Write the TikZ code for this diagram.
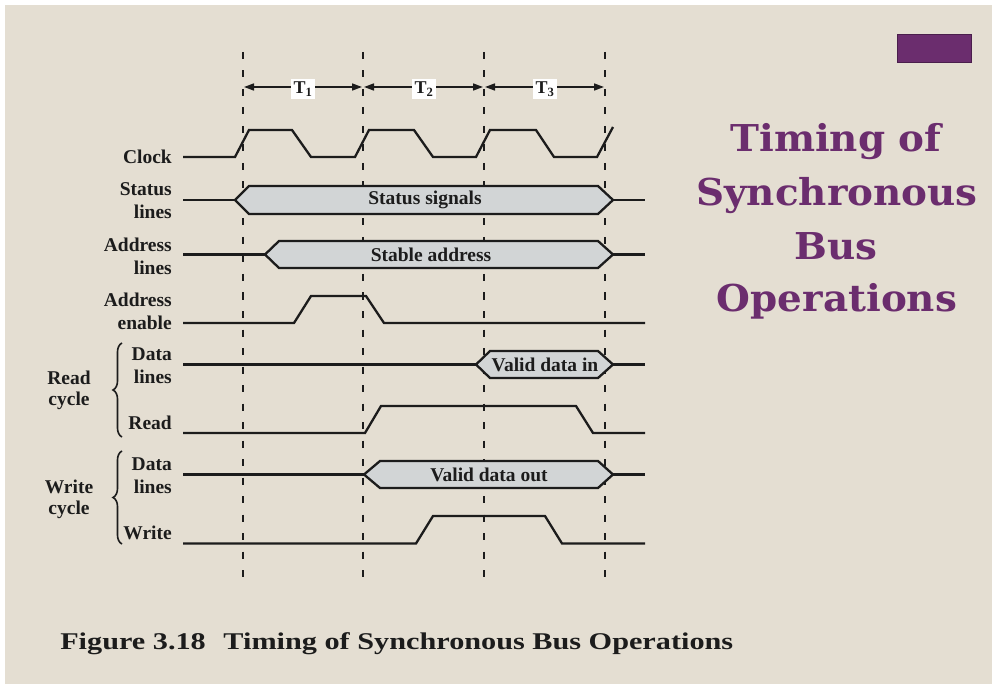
\documentclass[tikz,border=0pt]{standalone}
\usepackage{fontspec}
\setmainfont{Liberation Serif}
\newfontfamily\titlefont{DejaVu Serif}
\usetikzlibrary{arrows.meta,decorations.pathreplacing}
\definecolor{bg}{HTML}{E4DED2}
\definecolor{hexfill}{HTML}{D2D5D6}
\definecolor{ink}{HTML}{1C1C1C}
\definecolor{plum}{HTML}{6B2D6E}
\definecolor{plumdark}{HTML}{4A1E4C}
\begin{document}
\begin{tikzpicture}[x=1pt,y=-1pt,
  sig/.style={draw=ink, line width=2.3pt, line join=miter},
  hexbox/.style={draw=ink, fill=hexfill, line width=2.3pt, line join=miter},
  guide/.style={draw=ink, line width=1.8pt, dash pattern=on 7pt off 11.5pt},
  lbl/.style={font=\fontsize{19.5}{23}\selectfont\bfseries, text=ink, inner sep=0pt, align=right, anchor=east},
  grp/.style={font=\fontsize{19.5}{21}\selectfont\bfseries, text=ink, inner sep=0pt, align=center},
  hexlbl/.style={font=\fontsize{19.5}{23}\selectfont\bfseries, text=ink, inner sep=0pt},
  tlbl/.style={fill=white, font=\fontsize{18}{20}\selectfont\bfseries, text=ink, inner sep=2.5pt},
  period/.style={draw=ink, line width=1.6pt, {Triangle[length=10pt,width=7pt]}-{Triangle[length=10pt,width=7pt]}},
  brc/.style={draw=ink, line width=1.6pt, decorate, decoration={brace, amplitude=9pt}},
  titletext/.style={font=\titlefont\bfseries\fontsize{37}{53}\selectfont, text=plum, inner sep=0pt, anchor=base, xscale=1.05},
]
\useasboundingbox (0,0) rectangle (992,684);
\fill[white] (0,0) rectangle (992,684);
\fill[bg] (5,5) rectangle (992,684);

% purple marker
\fill[plum, draw=plumdark, line width=1pt] (897,35) rectangle (971,63);

% title
\node[titletext] (t1) at (836,152) {Timing of};
\node[titletext] (t2) at (837,206) {Synchronous};
\node[titletext] (t3) at (836,260) {Bus};
\node[titletext] (t4) at (837,312) {Operations};

% dashed guides
\foreach \gx/\gn in {243/a,363/b,484/c,605/d}{
  \coordinate (top\gn) at (\gx,52);
  \coordinate (bot\gn) at (\gx,578);
  \draw[guide] (top\gn) -- (bot\gn);
}

% period arrows
\coordinate (p0) at (244,87);
\coordinate (p1) at (362,87);
\coordinate (p1b) at (364,87);
\coordinate (p2) at (483,87);
\coordinate (p2b) at (485,87);
\coordinate (p3) at (604,87);
\draw[period] (p0) -- (p1);
\draw[period] (p1b) -- (p2);
\draw[period] (p2b) -- (p3);
\node[tlbl] (T1) at (303,89) {T\textsubscript{1}};
\node[tlbl] (T2) at (424,89) {T\textsubscript{2}};
\node[tlbl] (T3) at (545,89) {T\textsubscript{3}};

% signal labels
\node[lbl] (lclock) at (172,157) {Clock};
\node[lbl] (lstatus) at (172,201) {Status\\lines};
\node[lbl] (laddr) at (172,256) {Address\\lines};
\node[lbl] (laen) at (172,311) {Address\\enable};
\node[lbl] (lrdata) at (172,366) {Data\\lines};
\node[lbl] (lread) at (172,423) {Read};
\node[lbl] (lwdata) at (172,476) {Data\\lines};
\node[lbl] (lwrite) at (172,533) {Write};
\node[grp] (lrcyc) at (69,390) {Read\\cycle};
\node[grp] (lwcyc) at (69,499) {Write\\cycle};

% braces
\coordinate (rb1) at (122,437);
\coordinate (rb2) at (122,343);
\coordinate (wb1) at (122,544);
\coordinate (wb2) at (122,451);
\draw[brc] (rb1) -- (rb2);
\draw[brc] (wb1) -- (wb2);

% clock
\draw[sig] (183,157) -- (235,157) -- (249,130) -- (292,130) -- (311,157) -- (355,157) -- (369,130) -- (414,130) -- (433,157) -- (476,157) -- (490,130) -- (536,130) -- (554,157) -- (597,157) -- (613,127);

% status lines
\draw[sig] (183,200) -- (235,200);
\draw[sig] (613,200) -- (645,200);
\draw[hexbox] (235,200) -- (249,186) -- (598,186) -- (613,200) -- (598,214) -- (249,214) -- cycle;
\node[hexlbl] (hstatus) at (425,200) {Status signals};

% address lines
\draw[sig] (183,254.5) -- (265,254.5);
\draw[sig] (613,254.5) -- (645,254.5);
\draw[hexbox] (265,254.5) -- (279,241) -- (598,241) -- (613,254.5) -- (598,268) -- (279,268) -- cycle;
\node[hexlbl] (haddr) at (431,255) {Stable address};

% address enable
\draw[sig] (183,323) -- (294,323) -- (311,296) -- (366,296) -- (384,323) -- (645,323);

% read data lines
\draw[sig] (183,364.5) -- (476,364.5);
\draw[sig] (613,364.5) -- (645,364.5);
\draw[hexbox] (476,364.5) -- (490,351) -- (598,351) -- (613,364.5) -- (598,378) -- (490,378) -- cycle;
\node[hexlbl] (hrd) at (545,365) {Valid data in};

% read
\draw[sig] (183,433) -- (365,433) -- (381,406) -- (576,406) -- (593,433) -- (645,433);

% write data lines
\draw[sig] (183,474.5) -- (364,474.5);
\draw[sig] (613,474.5) -- (645,474.5);
\draw[hexbox] (364,474.5) -- (380,461) -- (598,461) -- (613,474.5) -- (598,488) -- (380,488) -- cycle;
\node[hexlbl] (hwd) at (489,475) {Valid data out};

% write
\draw[sig] (183,543.5) -- (416,543.5) -- (433,516) -- (545,516) -- (562,543.5) -- (645,543.5);

% caption
\node[font=\fontsize{24}{26}\selectfont\bfseries, text=ink, inner sep=0pt, anchor=base west, xscale=1.26] (cap) at (60,649) {Figure 3.18\hspace{14pt}Timing of Synchronous Bus Operations};
\end{tikzpicture}
\end{document}
